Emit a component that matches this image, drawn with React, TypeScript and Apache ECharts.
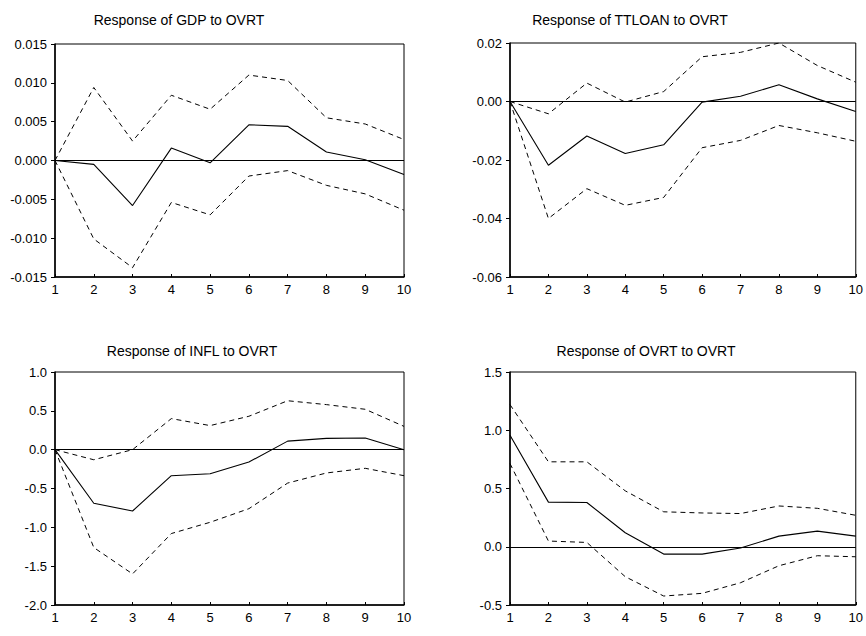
import React, { useEffect, useRef } from "react";
import * as echarts from "echarts";

const periods = ["1", "2", "3", "4", "5", "6", "7", "8", "9", "10"];

const gdpResp = [0, -0.0005, -0.0058, 0.0016, -0.0003, 0.0046, 0.0044, 0.0011, 0.0001, -0.0018];
const gdpUpper = [0, 0.0094, 0.0025, 0.0084, 0.0066, 0.011, 0.0103, 0.0055, 0.0047, 0.0027];
const gdpLower = [0, -0.0101, -0.0138, -0.0054, -0.007, -0.002, -0.0013, -0.0032, -0.0043, -0.0064];

const loanResp = [0, -0.0218, -0.0118, -0.0178, -0.0148, -0.0002, 0.0018, 0.0057, 0.0009, -0.0034];
const loanUpper = [0, -0.0042, 0.0063, -0.0002, 0.0034, 0.0153, 0.0168, 0.02, 0.0123, 0.0066];
const loanLower = [0, -0.04, -0.0298, -0.0355, -0.0328, -0.0158, -0.0133, -0.0082, -0.0107, -0.0136];

const inflResp = [0, -0.69, -0.79, -0.335, -0.31, -0.16, 0.11, 0.145, 0.15, 0.0];
const inflUpper = [0, -0.13, 0.0, 0.4, 0.31, 0.43, 0.63, 0.58, 0.52, 0.3];
const inflLower = [0, -1.26, -1.6, -1.08, -0.935, -0.76, -0.43, -0.3, -0.24, -0.335];

const ovrtResp = [0.957, 0.383, 0.38, 0.12, -0.063, -0.063, -0.011, 0.091, 0.134, 0.091];
const ovrtUpper = [1.22, 0.729, 0.729, 0.48, 0.3, 0.29, 0.285, 0.35, 0.33, 0.27];
const ovrtLower = [0.714, 0.049, 0.037, -0.257, -0.423, -0.4, -0.309, -0.163, -0.077, -0.086];

const titles = [
  "Response of GDP to OVRT",
  "Response of TTLOAN to OVRT",
  "Response of INFL to OVRT",
  "Response of OVRT to OVRT",
];

const yMins = [-0.015, -0.06, -2.0, -0.5];
const yMaxs = [0.015, 0.02, 1.0, 1.5];
const yIntervals = [0.005, 0.02, 0.5, 0.5];
const yDecimals = [3, 2, 1, 1];

const panels = [
  [gdpResp, gdpUpper, gdpLower],
  [loanResp, loanUpper, loanLower],
  [inflResp, inflUpper, inflLower],
  [ovrtResp, ovrtUpper, ovrtLower],
];

const FONT = "Liberation Sans, Arial, sans-serif";

export default function App() {
  const ref = useRef<HTMLDivElement>(null);
  useEffect(() => {
    if (!ref.current) return;
    const chart = echarts.init(ref.current, undefined, { renderer: "svg" });
    const grids = [
      { left: 55, top: 44, width: 349, height: 233 },
      { left: 510, top: 43, width: 348, height: 234 },
      { left: 55, top: 372, width: 349, height: 233 },
      { left: 510, top: 372, width: 348, height: 233 },
    ];
    const titleCenters = [
      [174, 8],
      [625, 8],
      [187, 339],
      [641, 339],
    ];
    const series: any[] = [];
    panels.forEach((p, i) => {
      series.push({
        type: "line",
        xAxisIndex: i,
        yAxisIndex: i,
        data: p[0],
        symbol: "none",
        lineStyle: { color: "#000", width: 1.1, type: "solid" },
        markLine: {
          silent: true,
          symbol: "none",
          label: { show: false },
          lineStyle: { color: "#000", width: 1, type: "solid" },
          data: [{ yAxis: 0 }],
        },
      });
      series.push({
        type: "line",
        xAxisIndex: i,
        yAxisIndex: i,
        data: p[1],
        symbol: "none",
        lineStyle: { color: "#000", width: 1, type: [5, 4] },
      });
      series.push({
        type: "line",
        xAxisIndex: i,
        yAxisIndex: i,
        data: p[2],
        symbol: "none",
        lineStyle: { color: "#000", width: 1, type: [5, 4] },
      });
    });
    chart.setOption({
      animation: false,
      backgroundColor: "#fff",
      title: titles.map((t, i) => ({
        text: t,
        left: titleCenters[i][0],
        top: titleCenters[i][1],
        textAlign: "center",
        textStyle: { fontFamily: FONT, fontSize: 14, fontWeight: "normal", color: "#000" },
      })),
      grid: grids.map((g) => ({
        ...g,
        show: true,
        borderColor: "#000",
        borderWidth: 1,
        backgroundColor: "transparent",
        containLabel: false,
      })),
      xAxis: grids.map((_, i) => ({
        type: "category",
        gridIndex: i,
        data: periods,
        boundaryGap: false,
        axisLine: { show: true, onZero: false, lineStyle: { color: "#000", width: 1.5 } },
        axisTick: { show: true, inside: true, length: 3, lineStyle: { color: "#000" } },
        axisLabel: { color: "#000", fontFamily: FONT, fontSize: 13, margin: 6, interval: 0 },
        splitLine: { show: false },
      })),
      yAxis: grids.map((_, i) => ({
        type: "value",
        gridIndex: i,
        min: yMins[i],
        max: yMaxs[i],
        interval: yIntervals[i],
        axisLine: { show: true, onZero: false, lineStyle: { color: "#000", width: 1.5 } },
        axisTick: { show: true, inside: false, length: 4, lineStyle: { color: "#000" } },
        axisLabel: {
          color: "#000",
          fontFamily: FONT,
          fontSize: 13,
          margin: 8,
          formatter: (v: number) => v.toFixed(yDecimals[i]),
        },
        splitLine: { show: false },
      })),
      series,
    });
    return () => chart.dispose();
  }, []);
  return (
    <div
      ref={ref}
      style={{ position: "fixed", left: 0, top: 0, width: 866, height: 636, background: "#fff" }}
    />
  );
}
